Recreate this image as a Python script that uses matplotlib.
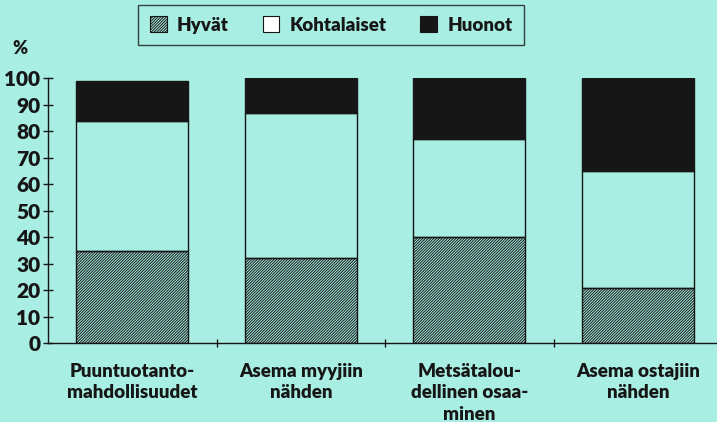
import matplotlib
matplotlib.use("Agg")
import matplotlib.pyplot as plt
import numpy as np

categories = ["Puuntuotanto-\nmahdollisuudet", "Asema myyjiin\nnähden",
              "Metsätalou-\ndellinen osaa-\nminen", "Asema ostajiin\nnähden"]
hyvat = [35, 32, 40, 21]
kohtalaiset = [49, 55, 37, 44]
huonot = [15, 13, 23, 35]
series_names = ["Hyvät", "Kohtalaiset", "Huonot"]

bg = "#a8eee2"
ink = "#161616"
plt.rcParams["font.family"] = ["Lato", "DejaVu Sans"]
plt.rcParams["font.weight"] = "heavy"
plt.rcParams["hatch.linewidth"] = 0.7
plt.rcParams["hatch.color"] = ink

fig = plt.figure(figsize=(7.17, 4.22), dpi=100, facecolor=bg)
ax = fig.add_axes([0.067, 0.1865, 0.933, 0.628])
ax.set_facecolor(bg)

x = np.arange(len(categories))
w = 0.665
b1 = ax.bar(x, hyvat, w, facecolor="none", edgecolor=ink, hatch="////////////", lw=1, label=series_names[0])
b2 = ax.bar(x, kohtalaiset, w, bottom=hyvat, facecolor="none", edgecolor=ink, lw=1, label=series_names[1])
bottom3 = np.array(hyvat) + np.array(kohtalaiset)
b3 = ax.bar(x, huonot, w, bottom=bottom3, facecolor=ink, edgecolor=ink, lw=1, label=series_names[2])

ax.set_xlim(-0.5, 3.47)
ax.set_ylim(0, 100)
ax.set_yticks(range(0, 101, 10))
ax.tick_params(axis="y", direction="inout", length=7, width=1, colors=ink, labelsize=15, pad=2)
ax.set_xticks(x)
ax.set_xticklabels(categories, fontsize=13.5, color=ink, linespacing=1.32)
ax.tick_params(axis="x", length=0, pad=14)
ax.set_xticks(x[:-1] + 0.5, minor=True)
ax.tick_params(axis="x", which="minor", direction="inout", length=6, width=1, colors=ink)
for s in ["top", "right"]:
    ax.spines[s].set_visible(False)
for s in ["left", "bottom"]:
    ax.spines[s].set_color(ink)
    ax.spines[s].set_linewidth(1)

fig.text(0.028, 0.885, "%", fontsize=13, color=ink, ha="center", va="center")

leg = fig.legend(handles=[b1, b2, b3], labels=series_names, ncol=3,
                 loc="center", bbox_to_anchor=(0.462, 0.941), fontsize=13.5,
                 frameon=True, fancybox=False, edgecolor=ink, facecolor=bg,
                 handlelength=0.9, handleheight=0.9, handletextpad=0.55,
                 columnspacing=1.8, borderpad=0.6)
leg.get_frame().set_linewidth(1)
for t in leg.get_texts():
    t.set_color(ink)
for h in leg.legend_handles:
    h.set_linewidth(0.8)
leg.legend_handles[1].set_facecolor("white")

fig.savefig("out.png", dpi=100, facecolor=bg)
